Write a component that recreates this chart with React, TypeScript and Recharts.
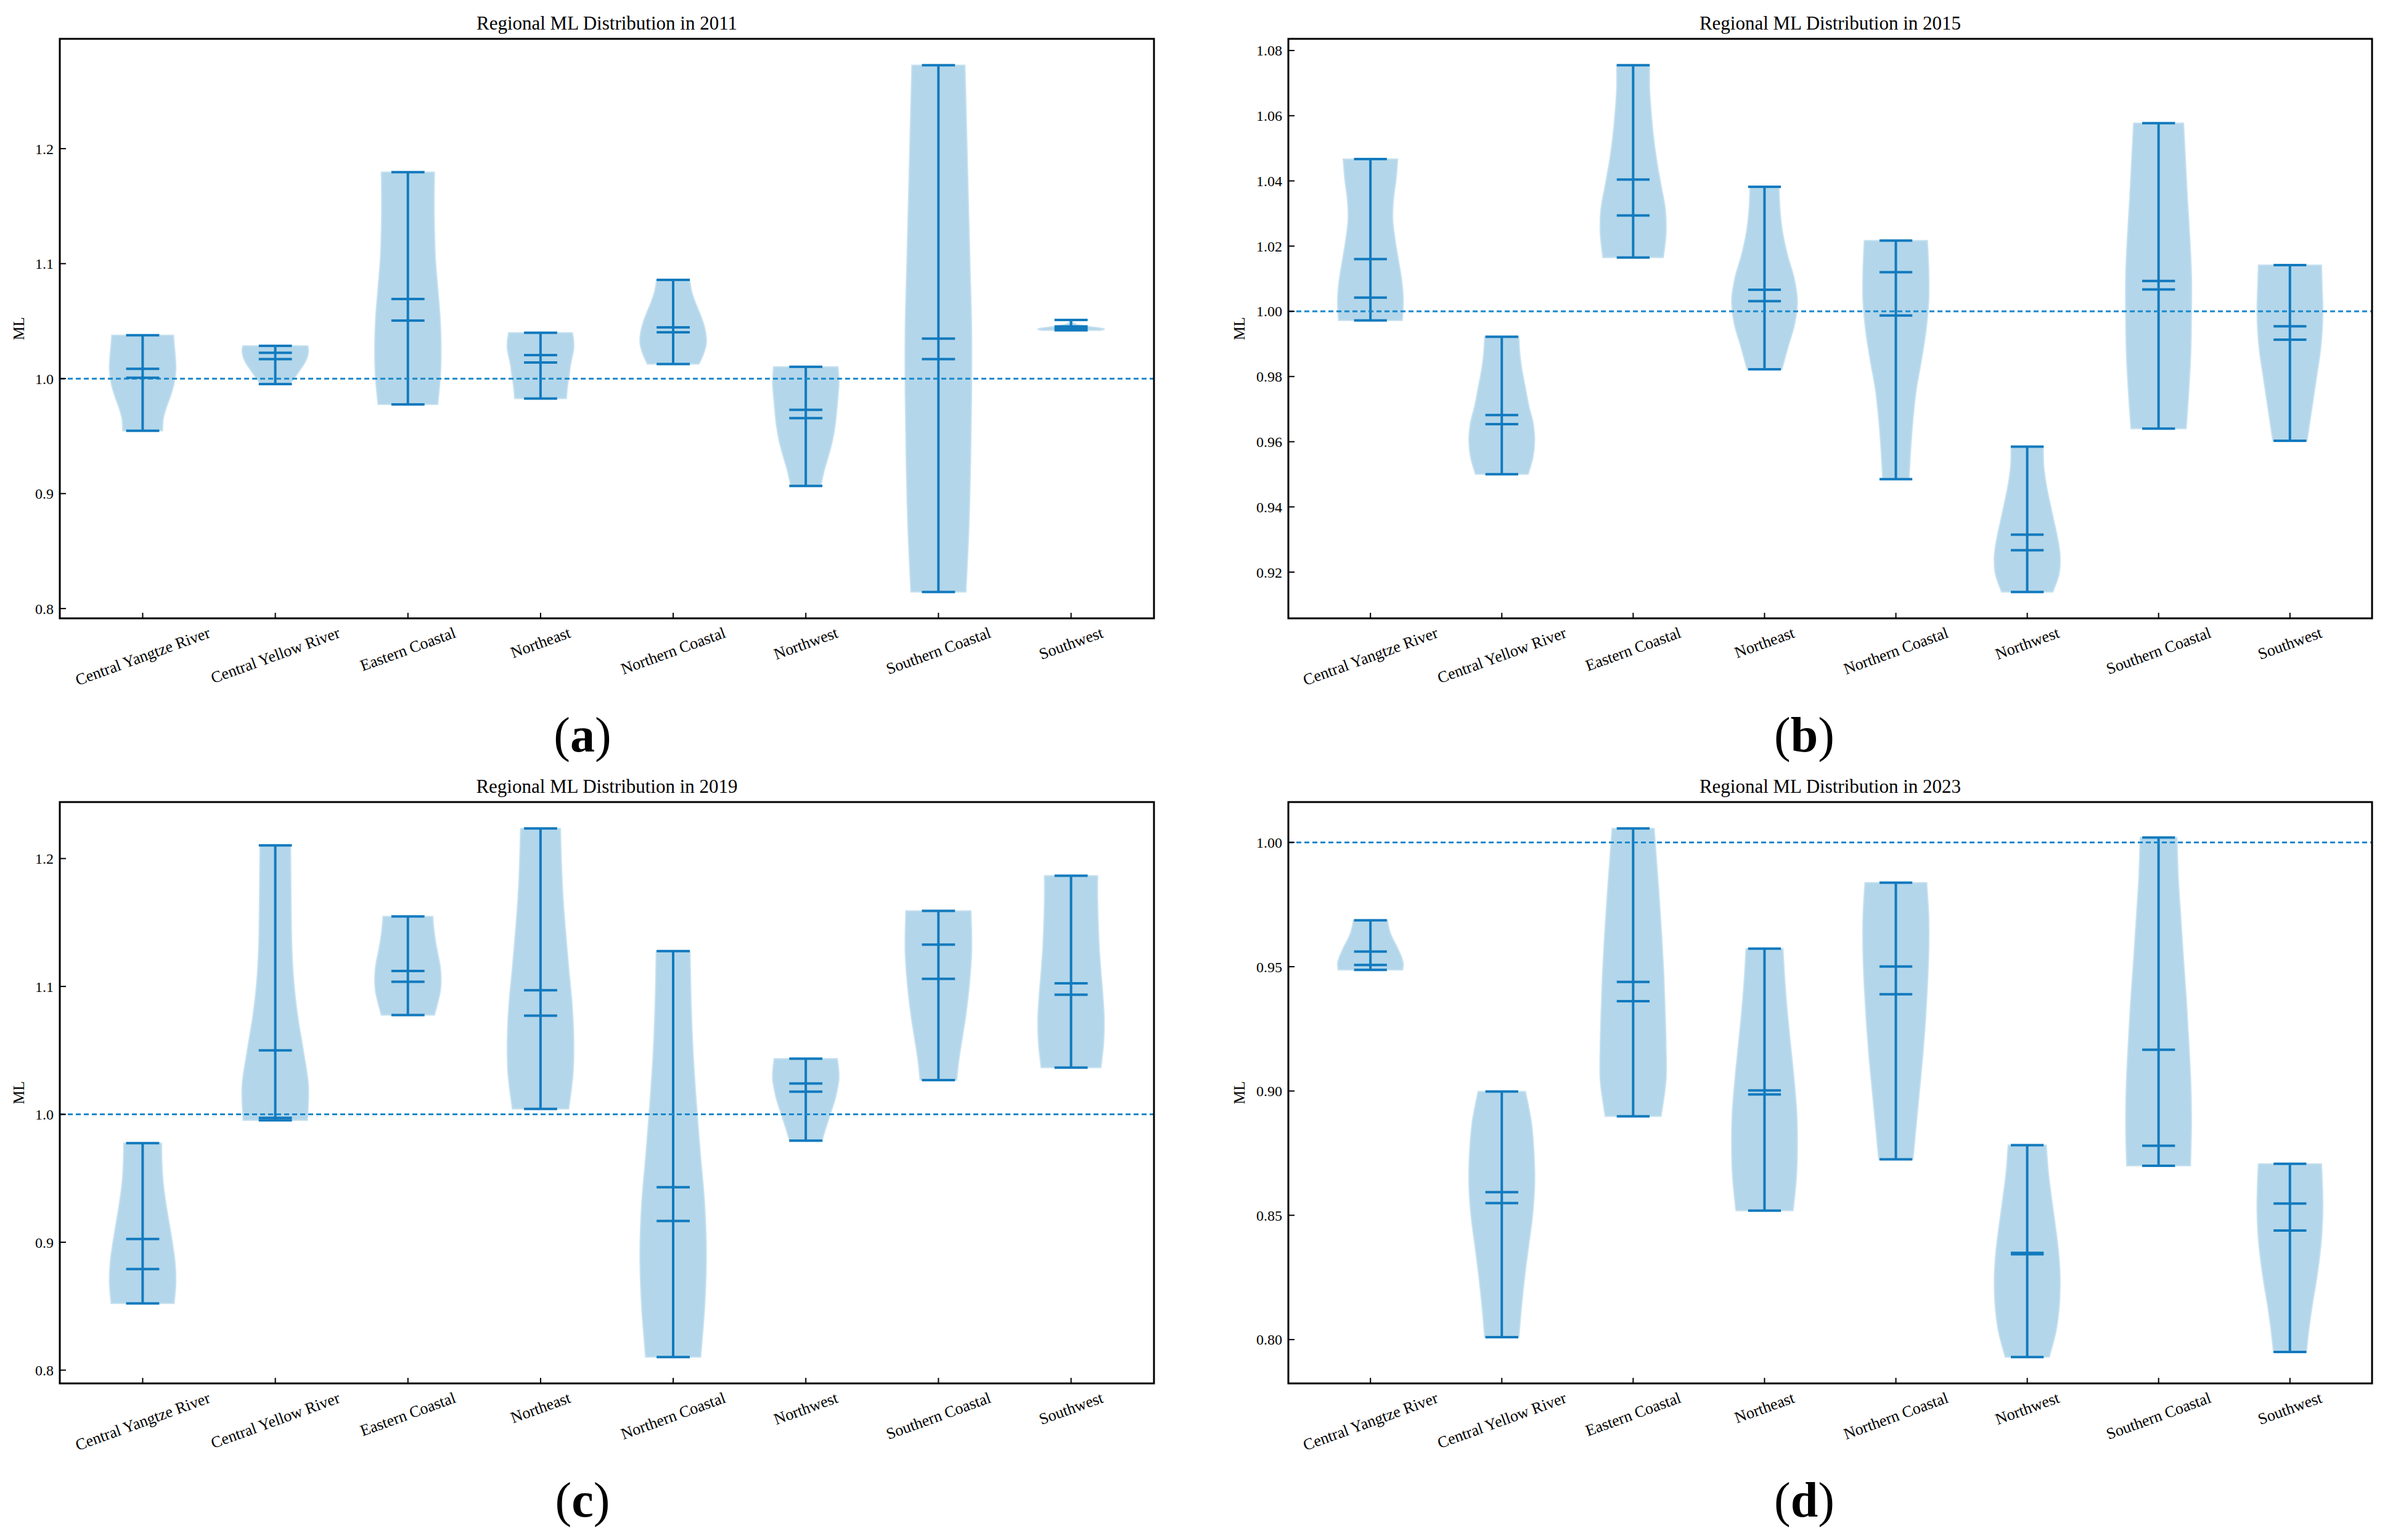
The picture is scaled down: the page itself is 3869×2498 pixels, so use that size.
import React from "react";
import { Bar, ComposedChart, ReferenceLine, Scatter, XAxis, YAxis } from "recharts";

const REGIONS = [
  "Central Yangtze River",
  "Central Yellow River",
  "Eastern Coastal",
  "Northeast",
  "Northern Coastal",
  "Northwest",
  "Southern Coastal",
  "Southwest",
];

// 2011
const MIN_2011 = [0.9546, 0.9953, 0.9775, 0.9826, 1.0127, 0.9066, 0.8144, 1.042];
const MAX_2011 = [1.0378, 1.0285, 1.1796, 1.0399, 1.0858, 1.0102, 1.2726, 1.051];
const MEAN_2011 = [1.0085, 1.0225, 1.0692, 1.0204, 1.0446, 0.9728, 1.0348, 1.0454];
const MEDIAN_2011 = [1.0008, 1.017, 1.0505, 1.014, 1.0403, 0.9656, 1.017, 1.0437];
// violin half-widths (relative), from min up to max
const SHAPE_2011 = [
  [0.6, 0.62, 0.72, 0.85, 0.95, 1.0, 0.99, 0.96, 0.93],
  [0.45, 0.55, 0.65, 0.75, 0.85, 0.93, 0.98, 1.0, 0.98],
  [0.9, 0.98, 1.0, 0.97, 0.9, 0.83, 0.8, 0.79, 0.8],
  [0.78, 0.8, 0.83, 0.87, 0.9, 0.95, 1.0, 1.0, 0.96],
  [0.78, 0.92, 1.0, 0.98, 0.9, 0.78, 0.65, 0.55, 0.5],
  [0.45, 0.55, 0.68, 0.8, 0.88, 0.93, 0.97, 1.0, 0.97],
  [0.83, 0.92, 0.97, 1.0, 1.0, 0.95, 0.9, 0.85, 0.8],
  [0.9, 1.0, 0.8, 0.5, 0.25, 0.12, 0.06, 0.03, 0.02],
];
const TICKS_2011 = [0.8, 0.9, 1.0, 1.1, 1.2];

// 2015
const MIN_2015 = [0.9972, 0.95, 1.0165, 0.9822, 0.9485, 0.9139, 0.964, 0.9603];
const MAX_2015 = [1.0467, 0.9922, 1.0755, 1.0382, 1.0217, 0.9585, 1.0577, 1.0142];
const MEAN_2015 = [1.016, 0.9682, 1.0404, 1.0066, 1.012, 0.9315, 1.0093, 0.9954];
const MEDIAN_2015 = [1.0042, 0.9654, 1.0294, 1.0031, 0.9987, 0.9267, 1.0067, 0.9913];
const SHAPE_2015 = [
  [0.97, 1.0, 0.95, 0.85, 0.75, 0.68, 0.7, 0.78, 0.83],
  [0.8, 0.95, 1.0, 0.95, 0.82, 0.72, 0.62, 0.55, 0.52],
  [0.92, 1.0, 0.98, 0.85, 0.72, 0.62, 0.55, 0.5, 0.5],
  [0.53, 0.72, 0.92, 1.0, 0.9, 0.7, 0.55, 0.47, 0.44],
  [0.4, 0.45, 0.52, 0.62, 0.78, 0.92, 1.0, 1.0, 0.96],
  [0.78, 0.97, 1.0, 0.92, 0.8, 0.68, 0.57, 0.5, 0.49],
  [0.84, 0.92, 0.98, 1.0, 1.0, 0.95, 0.88, 0.82, 0.76],
  [0.52, 0.62, 0.72, 0.82, 0.92, 0.98, 1.0, 0.98, 0.96],
];
const TICKS_2015 = [0.92, 0.94, 0.96, 0.98, 1.0, 1.02, 1.04, 1.06, 1.08];

// 2019
const MIN_2019 = [0.8522, 0.9953, 1.0776, 1.0043, 0.8103, 0.9794, 1.0268, 1.0365];
const MAX_2019 = [0.9775, 1.2103, 1.1548, 1.2235, 1.1276, 1.0435, 1.1591, 1.1866];
const MEAN_2019 = [0.9026, 1.05, 1.1121, 1.097, 0.943, 1.0241, 1.1327, 1.1024];
const MEDIAN_2019 = [0.879, 0.9973, 1.1036, 1.0772, 0.9166, 1.0178, 1.1059, 1.0935];
const SHAPE_2019 = [
  [0.95, 1.0, 0.98, 0.9, 0.8, 0.7, 0.62, 0.58, 0.57],
  [0.97, 1.0, 0.85, 0.68, 0.56, 0.5, 0.48, 0.47, 0.46],
  [0.8, 0.9, 0.98, 1.0, 0.97, 0.9, 0.83, 0.78, 0.75],
  [0.85, 0.98, 1.0, 0.95, 0.85, 0.76, 0.68, 0.63, 0.6],
  [0.83, 0.95, 1.0, 0.95, 0.82, 0.7, 0.6, 0.54, 0.51],
  [0.49, 0.58, 0.68, 0.78, 0.88, 0.95, 1.0, 0.99, 0.95],
  [0.55, 0.62, 0.72, 0.82, 0.9, 0.96, 1.0, 1.0, 0.98],
  [0.9, 0.98, 1.0, 0.96, 0.9, 0.85, 0.82, 0.8, 0.8],
];
const TICKS_2019 = [0.8, 0.9, 1.0, 1.1, 1.2];

// 2023
const MIN_2023 = [0.9487, 0.801, 0.8898, 0.8519, 0.8725, 0.793, 0.8699, 0.795];
const MAX_2023 = [0.9687, 0.8998, 1.0056, 0.9573, 0.9838, 0.8782, 1.002, 0.8707];
const MEAN_2023 = [0.9561, 0.8593, 0.9439, 0.9002, 0.9501, 0.8349, 0.9166, 0.8547];
const MEDIAN_2023 = [0.9507, 0.8549, 0.9361, 0.8986, 0.9389, 0.8343, 0.878, 0.8439];
const SHAPE_2023 = [
  [0.98, 1.0, 0.95, 0.87, 0.78, 0.68, 0.6, 0.55, 0.52],
  [0.52, 0.6, 0.7, 0.82, 0.94, 1.0, 0.98, 0.9, 0.72],
  [0.85, 1.0, 1.0, 0.97, 0.93, 0.87, 0.8, 0.72, 0.64],
  [0.87, 0.97, 1.0, 0.98, 0.9, 0.8, 0.7, 0.62, 0.56],
  [0.52, 0.62, 0.72, 0.82, 0.9, 0.96, 1.0, 1.0, 0.94],
  [0.67, 0.88, 0.98, 1.0, 0.95, 0.85, 0.74, 0.64, 0.58],
  [0.97, 1.0, 0.98, 0.92, 0.85, 0.76, 0.68, 0.6, 0.56],
  [0.5, 0.58, 0.68, 0.8, 0.9, 0.97, 1.0, 0.99, 0.96],
];
const TICKS_2023 = [0.8, 0.85, 0.9, 0.95, 1.0];

const FONT = '"Liberation Serif", "Times New Roman", serif';
const VIOLIN_FILL = "#b3d6ea";
const LINE_BLUE = "#127abe";
const DASH_BLUE = "#1a88cb";

type Row = {
  region: string;
  range: [number, number];
  min: number;
  max: number;
  mean: number;
  median: number;
  profile: number[];
};

function buildRows(mins: number[], maxs: number[], means: number[], medians: number[], shapes: number[][]): Row[] {
  return REGIONS.map((region, i) => ({
    region,
    range: [mins[i], maxs[i]],
    min: mins[i],
    max: maxs[i],
    mean: means[i],
    median: medians[i],
    profile: shapes[i],
  }));
}

let measureCtx: CanvasRenderingContext2D | null = null;
function textWidth(s: string, size: number) {
  if (!measureCtx) measureCtx = document.createElement("canvas").getContext("2d");
  if (!measureCtx) return s.length * size * 0.45;
  measureCtx.font = `${size}px "Liberation Serif"`;
  return measureCtx.measureText(s).width;
}

// catmull-rom through points, returned as bezier segments (no moveto)
function curveSegments(pts: number[][]) {
  let d = "";
  for (let i = 0; i < pts.length - 1; i++) {
    const p0 = pts[Math.max(0, i - 1)];
    const p1 = pts[i];
    const p2 = pts[i + 1];
    const p3 = pts[Math.min(pts.length - 1, i + 2)];
    const c1x = p1[0] + (p2[0] - p0[0]) / 6;
    const c1y = p1[1] + (p2[1] - p0[1]) / 6;
    const c2x = p2[0] - (p3[0] - p1[0]) / 6;
    const c2y = p2[1] - (p3[1] - p1[1]) / 6;
    d += ` C${c1x},${c1y} ${c2x},${c2y} ${p2[0]},${p2[1]}`;
  }
  return d;
}

function ViolinShape(props: any) {
  const { x, y, width, height, payload } = props;
  if (x == null || y == null || !payload) return null;
  const top = Math.min(y, y + height);
  const h = Math.abs(height);
  const cx = x + width / 2;
  const half = width * 0.25;
  const prof: number[] = payload.profile;
  const n = prof.length;
  const right = prof.map((w, i) => [cx + half * w, top + h - (h * i) / (n - 1)]);
  const left = right.map((p) => [2 * cx - p[0], p[1]]).reverse();
  const d =
    `M${right[0][0]},${right[0][1]}` +
    curveSegments(right) +
    ` L${left[0][0]},${left[0][1]}` +
    curveSegments(left) +
    " Z";
  return (
    <g>
      <path d={d} fill={VIOLIN_FILL} stroke="#c8e1ef" strokeWidth={2} />
      <line x1={cx} x2={cx} y1={top} y2={top + h} stroke={LINE_BLUE} strokeWidth={4} />
    </g>
  );
}

function makeCap(halfLen: number) {
  return (props: any) => {
    const { cx, cy } = props;
    if (cx == null || cy == null) return <g />;
    return <line x1={cx - halfLen} x2={cx + halfLen} y1={cy} y2={cy} stroke={LINE_BLUE} strokeWidth={4} />;
  };
}

const X_FONT = 26;
const ROT = (20 * Math.PI) / 180;

function XTick(props: any) {
  const { x, y, payload } = props;
  const label = String(payload.value);
  const L = textWidth(label, X_FONT);
  const bh = L * Math.sin(ROT) + X_FONT * Math.cos(ROT);
  const cy = y + 10 + bh / 2;
  return (
    <text
      x={x}
      y={cy}
      textAnchor="middle"
      dominantBaseline="central"
      transform={`rotate(-20 ${x} ${cy})`}
      fontSize={X_FONT}
      fontFamily={FONT}
      fill="#000"
    >
      {label}
    </text>
  );
}

type Layout = { left: number; top: number; right: number; bottom: number };

function ViolinPanel({ layout, rows, ticks, digits }: { layout: Layout; rows: Row[]; ticks: number[]; digits: number }) {
  const plotW = layout.right - layout.left;
  const plotH = layout.bottom - layout.top;
  const band = plotW / 8.25;
  const pad = band * 0.125;
  const lo = Math.min(...rows.map((r) => r.min));
  const hi = Math.max(...rows.map((r) => r.max));
  const span = hi - lo;
  const domain = [lo - span * 0.05, hi + span * 0.05];
  const cap = makeCap(band / 8);
  return (
    <div style={{ position: "absolute", left: layout.left - 90, top: layout.top - 10 }}>
      <ComposedChart
        width={plotW + 110}
        height={plotH + 200}
        data={rows}
        margin={{ top: 10, right: 20, left: 10, bottom: 10 }}
        barCategoryGap={0}
        barGap={0}
      >
        <XAxis
          dataKey="region"
          type="category"
          interval={0}
          padding={{ left: pad, right: pad }}
          height={180}
          axisLine={false}
          tickLine={{ stroke: "#000", strokeWidth: 2 }}
          tickSize={-9}
          tickMargin={9}
          tick={(p: any) => <XTick {...p} />}
        />
        <YAxis
          type="number"
          domain={domain}
          allowDataOverflow
          ticks={ticks}
          width={80}
          axisLine={false}
          tickLine={{ stroke: "#000", strokeWidth: 2 }}
          tickSize={-10}
          tickMargin={20}
          tick={{ fontSize: 24, fill: "#000", fontFamily: FONT }}
          tickFormatter={(v: number) => v.toFixed(digits)}
        />
        <Bar dataKey="range" shape={ViolinShape} isAnimationActive={false} />
        <Scatter dataKey="min" shape={cap} isAnimationActive={false} />
        <Scatter dataKey="max" shape={cap} isAnimationActive={false} />
        <Scatter dataKey="mean" shape={cap} isAnimationActive={false} />
        <Scatter dataKey="median" shape={cap} isAnimationActive={false} />
        <ReferenceLine y={1} stroke={DASH_BLUE} strokeWidth={3} strokeDasharray="8 5" />
      </ComposedChart>
    </div>
  );
}

const PANELS = [
  { year: 2011, tag: "a", rows: buildRows(MIN_2011, MAX_2011, MEAN_2011, MEDIAN_2011, SHAPE_2011), ticks: TICKS_2011, digits: 1, layout: { left: 97, top: 63, right: 1872, bottom: 1003 }, tagX: 945, yLabelX: 30 },
  { year: 2015, tag: "b", rows: buildRows(MIN_2015, MAX_2015, MEAN_2015, MEDIAN_2015, SHAPE_2015), ticks: TICKS_2015, digits: 2, layout: { left: 2090, top: 63, right: 3848, bottom: 1003 }, tagX: 2927, yLabelX: 2010 },
  { year: 2019, tag: "c", rows: buildRows(MIN_2019, MAX_2019, MEAN_2019, MEDIAN_2019, SHAPE_2019), ticks: TICKS_2019, digits: 1, layout: { left: 97, top: 1301, right: 1872, bottom: 2244 }, tagX: 945, yLabelX: 30 },
  { year: 2023, tag: "d", rows: buildRows(MIN_2023, MAX_2023, MEAN_2023, MEDIAN_2023, SHAPE_2023), ticks: TICKS_2023, digits: 2, layout: { left: 2090, top: 1301, right: 3848, bottom: 2244 }, tagX: 2927, yLabelX: 2010 },
];

export default function App() {
  return (
    <div style={{ position: "absolute", left: 0, top: 0, width: 3869, height: 2498, background: "#fff", overflow: "hidden" }}>
      {PANELS.map((p) => (
        <ViolinPanel key={p.year} layout={p.layout} rows={p.rows} ticks={p.ticks} digits={p.digits} />
      ))}
      <svg width={3869} height={2498} style={{ position: "absolute", left: 0, top: 0, pointerEvents: "none" }}>
        {PANELS.map((p) => {
          const { left, top, right, bottom } = p.layout;
          const midX = (left + right) / 2;
          const midY = (top + bottom) / 2;
          return (
            <g key={p.year} fontFamily={FONT} fill="#000">
              <rect x={left} y={top} width={right - left} height={bottom - top} fill="none" stroke="#000" strokeWidth={3} />
              <text x={midX} y={top - 15} textAnchor="middle" fontSize={31}>
                {`Regional ML Distribution in ${p.year}`}
              </text>
              <text x={p.yLabelX} y={midY} textAnchor="middle" dominantBaseline="central" fontSize={25} transform={`rotate(-90 ${p.yLabelX} ${midY})`}>
                ML
              </text>
              <text x={p.tagX} y={bottom + 216} textAnchor="middle" fontSize={80}>
                (<tspan fontWeight="bold">{p.tag}</tspan>)
              </text>
            </g>
          );
        })}
      </svg>
    </div>
  );
}
